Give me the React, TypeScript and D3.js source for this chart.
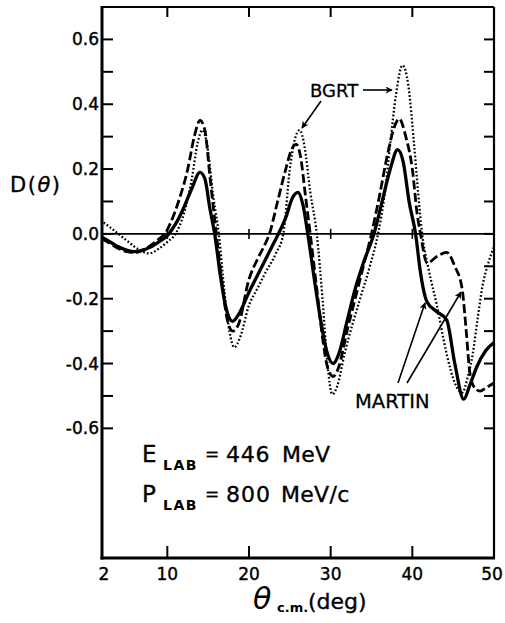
import React from "react";
import * as d3 from "d3";

// ---- data (theta in deg, D(theta)) ----
const solidCurve: [number, number][] = [
  [2, -0.01], [3, -0.025], [4, -0.04], [5, -0.05], [6, -0.055], [7, -0.05], [8, -0.04], [9, -0.024],
  [10, -0.005], [11, 0.03], [12, 0.08], [13, 0.14], [14, 0.19], [14.6, 0.17], [15.2, 0.08], [15.8, 0.0],
  [16.5, -0.13], [17.2, -0.23], [18, -0.27], [18.8, -0.245], [20, -0.18], [21, -0.13], [22, -0.08],
  [23, -0.03], [23.6, 0.0], [24.5, 0.05], [25.3, 0.11], [26, 0.128], [26.6, 0.09], [27.2, 0.0],
  [28, -0.14], [28.8, -0.27], [29.5, -0.36], [30.3, -0.4], [31, -0.37], [32, -0.27], [33, -0.17],
  [34, -0.09], [35.3, 0.0], [36.3, 0.1], [37.3, 0.2], [38.2, 0.26], [38.9, 0.22], [39.6, 0.1],
  [40.4, 0.0], [41, -0.12], [41.8, -0.21], [43, -0.24], [44.2, -0.265], [45.2, -0.4], [46.3, -0.51],
  [47, -0.47], [47.9, -0.41], [49, -0.36], [50, -0.335],
];

const dashedCurve: [number, number][] = [
  [2, -0.015], [3, -0.03], [4, -0.045], [5, -0.055], [6, -0.058], [7, -0.05], [8, -0.035], [9, -0.015],
  [9.7, 0.0], [10.5, 0.04], [11.5, 0.11], [12.5, 0.2], [13.3, 0.3], [14, 0.35], [14.6, 0.32], [15.2, 0.18],
  [16, 0.0], [16.7, -0.15], [17.3, -0.26], [18, -0.3], [18.7, -0.28], [20, -0.14], [21, -0.08], [22, -0.03],
  [22.5, 0.0], [23.5, 0.1], [24.5, 0.2], [25.2, 0.26], [25.8, 0.276], [26.3, 0.24], [26.9, 0.12], [27.5, 0.0],
  [28.3, -0.17], [29, -0.32], [29.6, -0.41], [30.3, -0.44], [31, -0.41], [32, -0.3], [33, -0.2], [34, -0.1],
  [35, 0.0], [36, 0.12], [37, 0.25], [37.8, 0.33], [38.4, 0.355], [39.2, 0.3], [40, 0.2], [40.6, 0.06],
  [41.0, 0.0], [41.8, -0.09], [43, -0.07], [44.2, -0.057], [45.2, -0.1], [46.1, -0.17], [46.6, -0.3],
  [47.0, -0.42], [47.5, -0.47], [48.3, -0.485], [49, -0.475], [50, -0.46],
];

const dottedCurve: [number, number][] = [
  [2.2, 0.035], [3, 0.02], [4, 0.0], [5, -0.02], [6, -0.04], [7, -0.055], [7.8, -0.06], [9, -0.045],
  [10, -0.025], [11, 0.0], [12, 0.06], [13, 0.17], [13.7, 0.28], [14.3, 0.32], [14.9, 0.27], [15.6, 0.12],
  [16.3, 0.0], [17, -0.18], [17.6, -0.3], [18.2, -0.35], [18.9, -0.32], [20, -0.22], [21, -0.17],
  [22, -0.12], [23.3, -0.06], [24.2, 0.0], [25, 0.2], [25.6, 0.29], [26.2, 0.32], [26.8, 0.27], [27.5, 0.13],
  [28.3, 0.0], [29, -0.2], [29.6, -0.4], [30.2, -0.495], [30.8, -0.47], [31.7, -0.37], [33.6, -0.2],
  [34.8, -0.1], [35.8, 0.0], [36.6, 0.12], [37.3, 0.28], [38.0, 0.43], [38.8, 0.52], [39.5, 0.46],
  [40.2, 0.28], [40.7, 0.13], [41.2, 0.0], [42, -0.11], [43, -0.22], [44.2, -0.37], [45.2, -0.46],
  [46.1, -0.49], [46.8, -0.44], [47.4, -0.37], [48, -0.26], [48.6, -0.16], [49.3, -0.09], [50, -0.04],
];

const xTickLabels = [2, 10, 20, 30, 40, 50];
const xTickMarks = [10, 20, 30, 40];
const yTickMarks = [-0.6, -0.5, -0.4, -0.3, -0.2, -0.1, 0, 0.1, 0.2, 0.3, 0.4, 0.5, 0.6];
const yTickLabels = [-0.6, -0.4, -0.2, 0, 0.2, 0.4, 0.6];

const W = 505;
const H = 623;
const FONT = "'DejaVu Sans', 'Liberation Sans', sans-serif";

export default function App() {
  const x = d3.scaleLinear().domain([2, 50]).range([102, 494]);
  const y = d3.scaleLinear().domain([-1.0, 0.7]).range([558, 7]);
  const line = d3
    .line<[number, number]>()
    .x((d) => x(d[0]))
    .y((d) => y(d[1]))
    .curve(d3.curveMonotoneX);

  const x0 = x(2);
  const x1 = x(50);
  const yTop = y(0.7);
  const yBot = y(-1.0);
  const yZero = y(0);

  const fmt = (v: number) => (v === 0 ? "0.0" : (v < 0 ? "-" : "") + Math.abs(v).toFixed(1));

  return (
    <svg
      width={W}
      height={H}
      viewBox={`0 0 ${W} ${H}`}
      style={{ position: "absolute", left: 0, top: 0, background: "#fff" }}
    >
      <defs>
        <marker id="ah" viewBox="0 0 10 10" refX="9" refY="5" markerWidth="9" markerHeight="7" orient="auto" markerUnits="userSpaceOnUse">
          <path d="M0,0 L10,5 L0,10 L2.5,5 Z" fill="#000" />
        </marker>
      </defs>
      <rect x={0} y={0} width={W} height={H} fill="#fff" />

      {/* frame */}
      <line x1={x0} y1={yTop} x2={x1} y2={yTop} stroke="#000" strokeWidth={2} />
      <line x1={x1} y1={yTop} x2={x1} y2={yBot} stroke="#000" strokeWidth={2.2} />
      <line x1={x0} y1={yTop - 1} x2={x0} y2={yBot + 1.5} stroke="#000" strokeWidth={3} />
      <line x1={x0 - 1.5} y1={yBot} x2={x1 + 1} y2={yBot} stroke="#000" strokeWidth={3} />
      {/* zero line */}
      <line x1={x0} y1={yZero} x2={x1} y2={yZero} stroke="#000" strokeWidth={1.8} />

      {/* x ticks */}
      {xTickMarks.map((t) => (
        <g key={"xt" + t}>
          <line x1={x(t)} y1={yBot} x2={x(t)} y2={yBot - 12} stroke="#000" strokeWidth={2} />
          <line x1={x(t)} y1={yTop} x2={x(t)} y2={yTop + 10} stroke="#000" strokeWidth={2} />
          <line x1={x(t)} y1={yZero - 5} x2={x(t)} y2={yZero + 5} stroke="#000" strokeWidth={1.6} />
        </g>
      ))}
      {/* y ticks */}
      {yTickMarks.map((t) => (
        <g key={"yt" + t}>
          <line x1={x0} y1={y(t)} x2={x0 + 11} y2={y(t)} stroke="#000" strokeWidth={2} />
          <line x1={x1} y1={y(t)} x2={x1 - 10} y2={y(t)} stroke="#000" strokeWidth={2} />
        </g>
      ))}

      {/* tick labels */}
      <g fontFamily={FONT} fontSize={17} fill="#000" stroke="#000" strokeWidth={0.4}>
        {yTickLabels.map((t) => (
          <text key={"yl" + t} x={99} y={y(t) + 6} textAnchor="end">
            {fmt(t)}
          </text>
        ))}
        {xTickLabels.map((t) => (
          <text key={"xl" + t} x={t === 2 ? x(t) + 2 : t === 50 ? x(t) - 2 : x(t)} y={580} textAnchor="middle">
            {t}
          </text>
        ))}
      </g>

      {/* curves */}
      <path d={line(dottedCurve) || ""} fill="none" stroke="#000" strokeWidth={2.3} strokeDasharray="1.7,2.1" />
      <path d={line(dashedCurve) || ""} fill="none" stroke="#000" strokeWidth={2.8} strokeDasharray="9,3.5" />
      <path d={line(solidCurve) || ""} fill="none" stroke="#000" strokeWidth={3.3} strokeLinejoin="round" />

      {/* axis titles */}
      <g fontFamily={FONT} fill="#000" stroke="#000" strokeWidth={0.35}>
        <text x={10} y={192} fontSize={21} letterSpacing={1.5}>
          D(<tspan fontStyle="italic">θ</tspan>)
        </text>
        <text x={253} y={609} fontSize={30} fontStyle="italic" strokeWidth={0}>θ</text>
        <text x={277} y={612} fontSize={13} fontWeight="bold" strokeWidth={0}>c.m.</text>
        <text x={308} y={609} fontSize={22}>(deg)</text>
      </g>

      {/* energy annotations */}
      <g fontFamily={FONT} fill="#000" stroke="#000" strokeWidth={0.35}>
        <text x={142} y={462} fontSize={23}>E</text>
        <text x={163} y={470} fontSize={14} fontWeight="bold" letterSpacing={1.5} strokeWidth={0}>LAB</text>
        <text x={212} y={460} fontSize={17} textAnchor="middle">=</text>
        <text x={226} y={462} fontSize={22} letterSpacing={0.8}>446</text>
        <text x={282} y={462} fontSize={22} letterSpacing={0.3}>MeV</text>

        <text x={142} y={502} fontSize={23}>P</text>
        <text x={163} y={510} fontSize={14} fontWeight="bold" letterSpacing={1.5} strokeWidth={0}>LAB</text>
        <text x={212} y={500} fontSize={17} textAnchor="middle">=</text>
        <text x={226} y={502} fontSize={22} letterSpacing={1}>800</text>
        <text x={281} y={502} fontSize={22} letterSpacing={0.3}>MeV/c</text>
      </g>

      {/* curve labels */}
      <g fontFamily={FONT} fill="#000" stroke="#000" strokeWidth={0.3}>
        <text x={310} y={97} fontSize={18}>BGRT</text>
        <text x={355} y={408} fontSize={19.5}>MARTIN</text>
      </g>
      <g stroke="#000" strokeWidth={1.6} fill="none">
        <line x1={363} y1={90} x2={392} y2={90} markerEnd="url(#ah)" />
        <line x1={321} y1={101} x2={302} y2={128} markerEnd="url(#ah)" />
        <line x1={398} y1={383} x2={425} y2={303} markerEnd="url(#ah)" />
        <line x1={407} y1={383} x2={461} y2={292} markerEnd="url(#ah)" />
      </g>
    </svg>
  );
}
